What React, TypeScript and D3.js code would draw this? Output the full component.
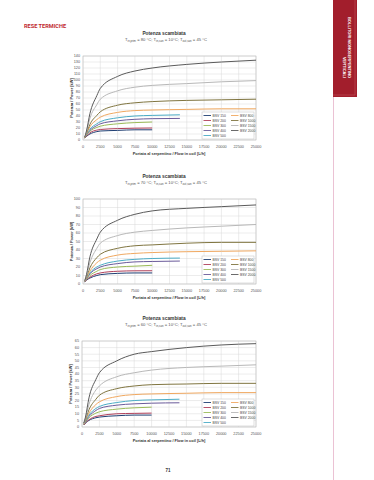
import React, { useEffect, useRef } from "react";
import * as d3 from "d3";

// Models and colours (legend order)
const models = ["BSV 150", "BSV 200", "BSV 300", "BSV 400", "BSV 500", "BSV 800", "BSV 1000", "BSV 1500", "BSV 2000"];
const colors = ["#1f3f73", "#b0405a", "#9bbb59", "#6a5a9a", "#4bacc6", "#f0a860", "#807540", "#b8b8b8", "#5a5a5a"];

// Flow points [L/h]
const flowsShort = [250, 500, 1000, 2000, 2500, 5000, 7500, 10000];
const flowsMid = [250, 500, 1000, 2000, 2500, 5000, 7500, 10000, 14000];
const flowsLong = [250, 500, 1000, 2000, 2500, 5000, 7500, 10000, 15000, 20000, 25000];
const modelFlows = [flowsShort, flowsShort, flowsShort, flowsMid, flowsMid, flowsLong, flowsLong, flowsLong, flowsLong];

const xTicks = [0, 2500, 5000, 7500, 10000, 12500, 15000, 17500, 20000, 22500, 25000];

// Power [kW] at T primary 80 °C
const power80 = [
  [3, 6, 10, 14, 15, 16, 17, 17],
  [3, 6.5, 12, 16.5, 17.5, 19, 19.7, 20],
  [3.5, 8, 14.5, 21, 23, 27, 29, 30],
  [3.5, 8.5, 16, 24, 27, 32, 34.5, 35.5, 36],
  [4, 9, 18, 27, 30.5, 37, 40, 41, 42],
  [4, 10, 22, 34, 38, 46, 49, 50, 51, 52, 52],
  [4, 11, 26, 41, 47, 58, 62, 64, 66, 67, 68],
  [4.5, 13, 36, 59, 68, 82, 88, 91, 94, 97, 99],
  [5, 15, 44, 74, 86, 106, 115, 120, 126, 130, 133],
];

// Power [kW] at T primary 70 °C
const power70 = [
  [2.5, 4.5, 7, 10, 11, 12.5, 13, 13],
  [2.5, 5, 8, 12, 13, 15, 15.5, 15.6],
  [3, 5.5, 10, 15, 17, 20, 21, 22],
  [3, 6, 12, 18, 20, 24, 26, 26.5, 27],
  [3, 6.5, 13, 20, 22, 27, 29, 30, 30.5],
  [3, 7, 15, 25, 28, 34, 36, 37, 38, 38.5, 39],
  [3.5, 8, 19, 31, 35, 42, 45, 46, 48, 49, 49],
  [3.5, 9.5, 25, 42, 48, 57, 61, 63, 66, 68, 70],
  [4, 11, 32, 53, 61, 75, 82, 86, 89, 91, 93],
];

// Power [kW] at T primary 60 °C
const power60 = [
  [1.5, 3, 5, 7, 7.5, 8.5, 9, 9],
  [1.5, 3.2, 5.5, 8, 8.5, 10, 10.3, 10.5],
  [2, 3.8, 7, 10.5, 11.5, 13.5, 14.5, 15],
  [2, 4.2, 8, 12.5, 14, 16.5, 17.5, 18, 18.3],
  [2, 4.5, 9, 14, 15.5, 18.5, 20, 20.5, 21],
  [2, 5, 10.5, 17, 19, 23, 24.5, 25, 25.5, 26, 26],
  [2.5, 5.5, 13, 21, 24, 29, 31, 32, 32.5, 33, 33],
  [2.5, 6.5, 17, 28, 31, 38, 41, 43, 45, 46, 47],
  [3, 7.5, 22, 36, 41, 50, 55, 57, 60, 62, 63],
];

const charts = [
  { temp: 80, yMax: 140, yStep: 10, values: power80, top: 56, bottom: 140, left: 83 },
  { temp: 70, yMax: 100, yStep: 10, values: power70, top: 199, bottom: 284, left: 83 },
  { temp: 60, yMax: 65, yStep: 5, values: power60, top: 341, bottom: 427, left: 82 },
];

const FONT = "'Liberation Sans', Arial, sans-serif";

export default function App() {
  const svgRef = useRef<SVGSVGElement | null>(null);

  useEffect(() => {
    if (!svgRef.current) return;
    const svg = d3.select(svgRef.current);
    svg.selectAll("*").remove();

    // page decoration
    svg.append("rect").attr("width", 374).attr("height", 480).attr("fill", "#fff");
    svg.append("line")
      .attr("x1", 333.5).attr("x2", 333.5).attr("y1", 0).attr("y2", 480)
      .attr("stroke", "#e6b3c9").attr("stroke-width", 0.8);
    svg.append("rect")
      .attr("x", 333).attr("y", 0).attr("width", 24).attr("height", 97)
      .attr("fill", "#a21e2c");
    svg.append("path")
      .attr("d", "M355,0 V95 H333")
      .attr("fill", "none").attr("stroke", "#c4505c").attr("stroke-width", 0.6);
    const side = svg.append("g").attr("font-family", FONT).attr("fill", "#fff")
      .attr("font-size", 4).attr("font-weight", "bold");
    // rotated 90deg: glyphs extend to the right of the anchor x
    side.append("text")
      .attr("transform", "translate(347.5,78) rotate(90)")
      .attr("text-anchor", "end")
      .text("BOLLITORI MONOSERPENTINO");
    side.append("text")
      .attr("transform", "translate(342.5,78) rotate(90)")
      .attr("text-anchor", "end")
      .text("VERTICALI");

    svg.append("text")
      .attr("x", 24).attr("y", 28)
      .attr("font-family", "Roboto, sans-serif").attr("font-weight", "bold")
      .attr("font-size", 5.6).attr("fill", "#c0282f")
      .text("RESE TERMICHE");

    svg.append("text")
      .attr("x", 168).attr("y", 472)
      .attr("text-anchor", "middle")
      .attr("font-family", FONT).attr("font-size", 4.5).attr("font-weight", "bold")
      .attr("fill", "#333")
      .text("71");

    charts.forEach(c => {
      const right = 256;
      const x = d3.scaleLinear().domain([0, 25000]).range([c.left, right]);
      const y = d3.scaleLinear().domain([0, c.yMax]).range([c.bottom, c.top]);
      const yTicks = d3.range(0, c.yMax + 0.001, c.yStep);
      const g = svg.append("g").attr("font-family", FONT);

      // titles
      g.append("text")
        .attr("x", 164).attr("y", c.top - 21)
        .attr("text-anchor", "middle")
        .attr("font-size", 4.8).attr("font-weight", "bold").attr("fill", "#333")
        .text("Potenza scambiata");
      const sub = g.append("text")
        .attr("x", 166).attr("y", c.top - 15)
        .attr("text-anchor", "middle")
        .attr("font-size", 4.2).attr("fill", "#555");
      const parts: [string, string, string][] = [
        ["T", "in,prim", ` = ${c.temp} °C; `],
        ["T", "in,san", " = 10°C; "],
        ["T", "out,san", " = 45 °C"],
      ];
      parts.forEach(([t, s, rest]) => {
        sub.append("tspan").text(t);
        sub.append("tspan").attr("font-size", 2.8).attr("dy", 1.2).text(s);
        sub.append("tspan").attr("dy", -1.2).text(rest);
      });

      // grid
      g.selectAll(".hgrid").data(yTicks).enter().append("line")
        .attr("x1", c.left).attr("x2", right)
        .attr("y1", d => y(d)).attr("y2", d => y(d))
        .attr("stroke", "#d9d9d9").attr("stroke-width", 0.5);
      g.selectAll(".vgrid").data(xTicks).enter().append("line")
        .attr("y1", c.top).attr("y2", c.bottom)
        .attr("x1", d => x(d)).attr("x2", d => x(d))
        .attr("stroke", "#d9d9d9").attr("stroke-width", 0.5);
      g.append("rect")
        .attr("x", c.left).attr("y", c.top)
        .attr("width", right - c.left).attr("height", c.bottom - c.top)
        .attr("fill", "none").attr("stroke", "#bfbfbf").attr("stroke-width", 0.6);

      // tick labels
      g.selectAll(".ylab").data(yTicks).enter().append("text")
        .attr("x", c.left - 3).attr("y", d => y(d) + 1.3)
        .attr("text-anchor", "end").attr("font-size", 3.8).attr("fill", "#555")
        .text(d => d);
      g.selectAll(".xlab").data(xTicks).enter().append("text")
        .attr("x", d => x(d)).attr("y", c.bottom + 8)
        .attr("text-anchor", "middle").attr("font-size", 3.8).attr("fill", "#555")
        .text(d => d);

      // axis titles
      g.append("text")
        .attr("x", 169).attr("y", c.bottom + 14.5)
        .attr("text-anchor", "middle")
        .attr("font-size", 3.9).attr("font-weight", "bold").attr("fill", "#333")
        .text("Portata al serpentino / Flow in coil [L/h]");
      g.append("text")
        .attr("transform", `translate(${c.left - 10},${(c.top + c.bottom) / 2}) rotate(-90)`)
        .attr("text-anchor", "middle")
        .attr("font-size", 3.9).attr("font-weight", "bold").attr("fill", "#333")
        .text("Potenza / Power [kW]");

      // curves
      const line = d3.line<[number, number]>()
        .x(d => x(d[0])).y(d => y(d[1]))
        .curve(d3.curveMonotoneX);
      c.values.forEach((vals, i) => {
        const pts = modelFlows[i].map((f, j) => [f, vals[j]] as [number, number]);
        g.append("path")
          .attr("d", line(pts))
          .attr("fill", "none")
          .attr("stroke", colors[i])
          .attr("stroke-width", 1);
      });

      // legend
      const lx = 202, lw = 52, lh = 27;
      const ly = c.bottom - lh - 1;
      const lg = g.append("g");
      lg.append("rect")
        .attr("x", lx).attr("y", ly).attr("width", lw).attr("height", lh)
        .attr("fill", "#fff").attr("stroke", "#bfbfbf").attr("stroke-width", 0.5);
      models.forEach((m, i) => {
        const col = i < 5 ? 0 : 1;
        const row = i < 5 ? i : i - 5;
        const ex = lx + 1.5 + col * 27.5;
        const ey = ly + 3.5 + row * 5;
        lg.append("line")
          .attr("x1", ex).attr("x2", ex + 7.5)
          .attr("y1", ey).attr("y2", ey)
          .attr("stroke", colors[i]).attr("stroke-width", 0.9);
        lg.append("text")
          .attr("x", ex + 9).attr("y", ey + 1.2)
          .attr("font-size", 3.4).attr("fill", "#444")
          .text(m);
      });
    });
  }, []);

  return (
    <svg
      ref={svgRef}
      width={374}
      height={480}
      style={{ position: "absolute", left: 0, top: 0 }}
    />
  );
}
